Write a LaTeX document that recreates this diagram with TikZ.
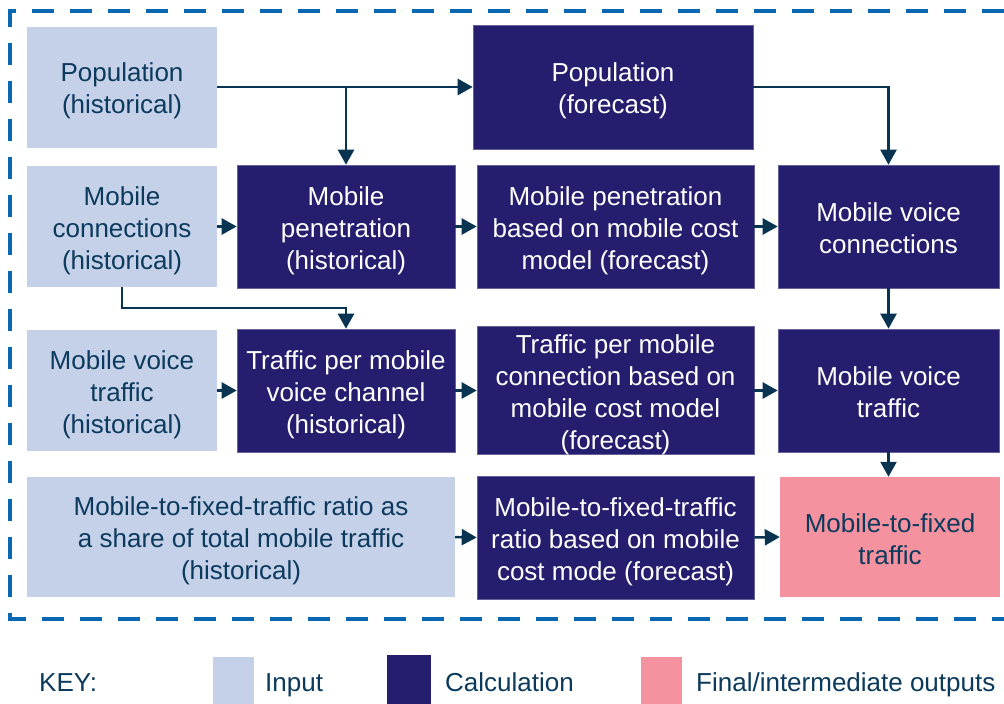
\documentclass[tikz,border=0pt]{standalone}
\usepackage{fontspec}
\setmainfont{Liberation Sans}
\usetikzlibrary{arrows.meta,calc}
\definecolor{inpc}{HTML}{C5D0E9}
\definecolor{calcc}{HTML}{251E6E}
\definecolor{outc}{HTML}{F4929F}
\definecolor{darktxt}{HTML}{0C3A5C}
\definecolor{arrc}{HTML}{083451}
\definecolor{bordc}{HTML}{0A67B2}
\newcommand{\ts}{\rule{0pt}{27pt}}
\newcommand{\bs}{\rule[-5pt]{0pt}{5pt}}
\begin{document}
\begin{tikzpicture}[x=1pt,y=-1pt,
  base/.style={rectangle, inner sep=0pt, align=center, font=\fontsize{26}{32}\selectfont},
  inp/.style={base, fill=inpc, text=darktxt},
  calcbox/.style={base, fill=calcc, text=white, draw=calcc!70!white, line width=0.6pt},
  outbox/.style={base, fill=outc, text=darktxt},
  arr/.style={draw=arrc, line width=2.5pt, -{Triangle[length=15pt,width=16pt]}},
  border/.style={draw=bordc, line width=4pt, dash pattern=on 22pt off 16pt},
  keytxt/.style={font=\fontsize{26}{32}\selectfont, text=darktxt, anchor=base west, inner sep=0pt},
  keybox/.style={rectangle, inner sep=0pt, anchor=north west}
]
\useasboundingbox (0,0) rectangle (1004,704);
\fill[white] (0,0) rectangle (1004,704);

% dashed frame
\draw[border, dash phase=0pt] (1004,11) -- (10,11) -- (10,619) -- (1004,619);

% row 1
\node[inp, minimum width=190pt, minimum height=121pt] (ph) at (122,87) {\ts Population\\(historical)\bs};
\node[calcbox, minimum width=280pt, minimum height=124pt] (pf) at (613,87) {\ts Population\\(forecast)\bs};
% row 2
\node[inp, minimum width=190pt, minimum height=121pt] (mc) at (122,226.5) {\ts Mobile\\connections\\(historical)\bs};
\node[calcbox, minimum width=218pt, minimum height=123pt] (mp) at (346,226.5) {\ts Mobile\\penetration\\(historical)\bs};
\node[calcbox, minimum width=277pt, minimum height=123pt] (mpf) at (615.5,226.5) {\ts Mobile penetration\\based on mobile cost\\model (forecast)\bs};
\node[calcbox, minimum width=221pt, minimum height=123pt] (mvc) at (888.5,226.5) {\ts Mobile voice\\connections\bs};
% row 3
\node[inp, minimum width=190pt, minimum height=121pt] (mvth) at (122,390.5) {\ts Mobile voice\\traffic\\(historical)\bs};
\node[calcbox, minimum width=218pt, minimum height=123pt] (tpv) at (346,390.5) {\ts Traffic per mobile\\voice channel\\(historical)\bs};
\node[calcbox, minimum width=277pt, minimum height=123pt] (tpc) at (615.5,390.5) {\ts Traffic per mobile\\connection based on\\mobile cost model\\(forecast)\bs};
\node[calcbox, minimum width=221pt, minimum height=123pt] (mvt) at (888.5,390.5) {\ts Mobile voice\\traffic\bs};
% row 4
\node[inp, minimum width=428pt, minimum height=120pt] (rh) at (241,537) {\ts Mobile-to-fixed-traffic ratio as\\a share of total mobile traffic\\(historical)\bs};
\node[calcbox, minimum width=277pt, minimum height=123pt] (rf) at (615.5,537.5) {\ts Mobile-to-fixed-traffic\\ratio based on mobile\\cost mode (forecast)\bs};
\node[outbox, minimum width=220pt, minimum height=120pt] (mf) at (890,537) {\ts Mobile-to-fixed\\traffic\bs};

% connectors
\draw[arr] (ph.east) -- (pf.west);
\draw[arr] (mp.north |- ph.east) -- (mp.north);
\draw[arr] (pf.east) -| (mvc.north);
\draw[arr] (mc.east) -- (mp.west);
\draw[arr] (mp.east) -- (mpf.west);
\draw[arr] (mpf.east) -- (mvc.west);
\draw[arr] (mc.south) -- ++(0,21) -| (tpv.north);
\draw[arr] (mvc.south) -- (mvt.north);
\draw[arr] (mvth.east) -- (tpv.west);
\draw[arr] (tpv.east) -- (tpc.west);
\draw[arr] (tpc.east) -- (mvt.west);
\draw[arr] (mvt.south) -- (mvt.south |- mf.north);
\draw[arr] (rh.east) -- (rf.west);
\draw[arr] (rf.east) -- (mf.west);

% key
\node[keytxt] (key) at (39,691) {KEY:};
\node[keybox, fill=inpc, minimum width=41pt, minimum height=48pt] (k1) at (213,657) {};
\node[keytxt] (k1t) at (265,691) {Input};
\node[keybox, fill=calcc, minimum width=44pt, minimum height=50pt] (k2) at (387,655) {};
\node[keytxt] (k2t) at (445,691) {Calculation};
\node[keybox, fill=outc, minimum width=41pt, minimum height=48pt] (k3) at (641,657) {};
\node[keytxt] (k3t) at (696,691) {Final/intermediate outputs};
\end{tikzpicture}
\end{document}
